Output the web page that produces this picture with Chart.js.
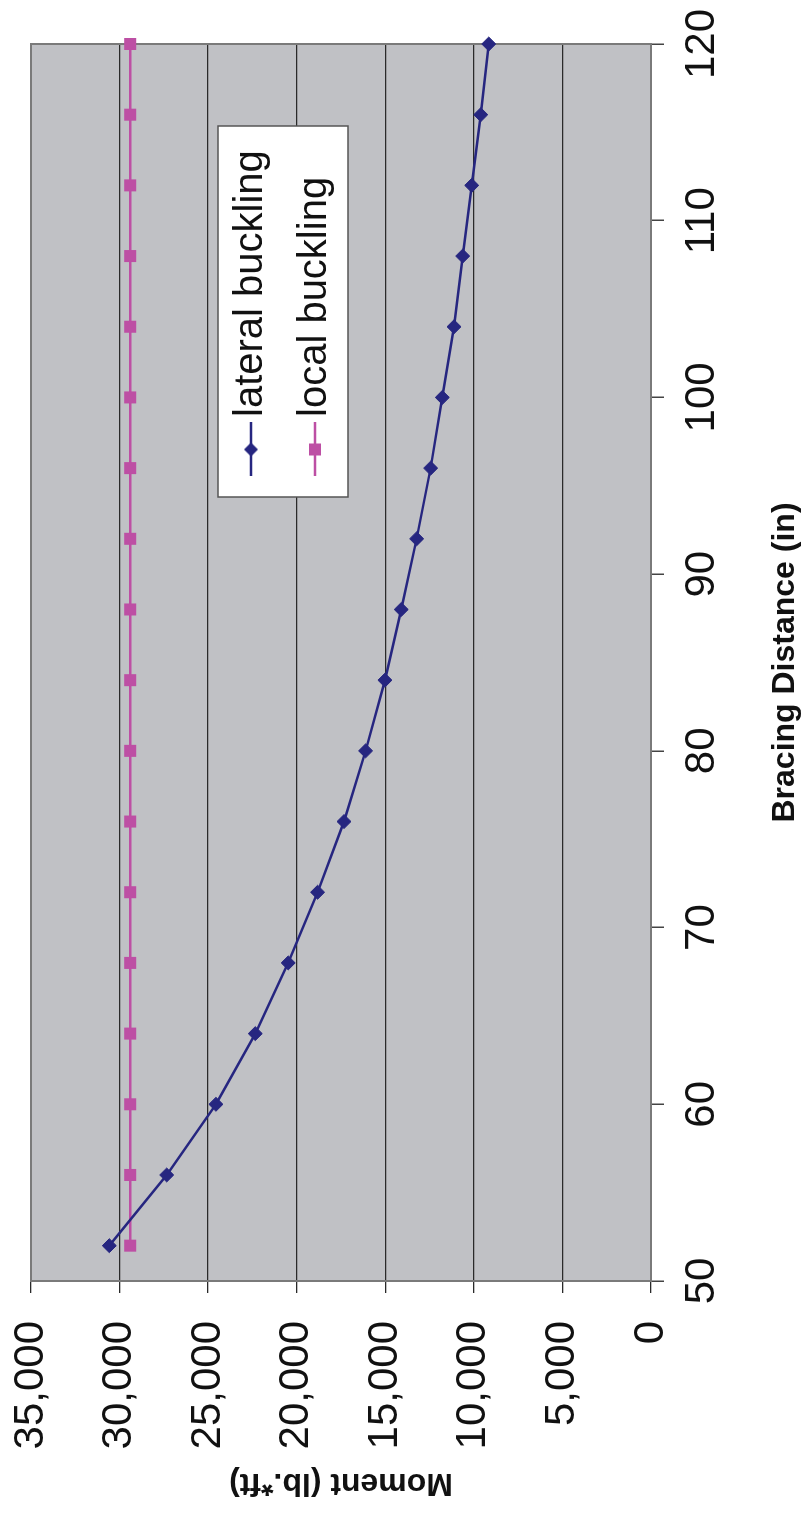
<!DOCTYPE html>
<html>
<head>
<meta charset="utf-8">
<script src="https://cdn.jsdelivr.net/npm/chart.js@4.4.1/dist/chart.umd.min.js"></script>
<style>
    html, body { margin: 0; padding: 0; background: #fff; overflow: hidden; }
    /* il grafico originale e' orizzontale: lo ruotiamo di 90 gradi in senso antiorario */
    #wrap {
        position: absolute; left: 0; top: 1514px;
        width: 1514px; height: 801px;
        transform-origin: 0 0; transform: rotate(-90deg);
    }
</style>
</head>
<body>
<div id="wrap"><canvas id="chart" width="1514" height="801"></canvas></div>
<script>
// dati
const bracingDistance = [52, 56, 60, 64, 68, 72, 76, 80, 84, 88, 92, 96, 100, 104, 108, 112, 116, 120];
const lateralBuckling = [30580, 27340, 24560, 22340, 20480, 18820, 17330, 16110, 15020,
                         14100, 13230, 12440, 11780, 11120, 10630, 10120, 9610, 9160];
const localBuckling = [29400, 29400, 29400, 29400, 29400, 29400, 29400, 29400, 29400,
                       29400, 29400, 29400, 29400, 29400, 29400, 29400, 29400, 29400];
const distanceTicks = [50, 60, 70, 80, 90, 100, 110, 120];
const momentTicks = [0, 5000, 10000, 15000, 20000, 25000, 30000, 35000];

const NAVY = '#262680';
const MAGENTA = '#bd4fa4';
const FONT = "'Liberation Sans', Arial, sans-serif";

// icona legenda: linea con marker al centro
function legendIcon(color, style) {
    const c = document.createElement('canvas');
    c.width = 54;
    c.height = 18;
    const g = c.getContext('2d');
    g.strokeStyle = color;
    g.fillStyle = color;
    g.lineWidth = 2.5;
    g.beginPath();
    g.moveTo(0, 9);
    g.lineTo(54, 9);
    g.stroke();
    g.beginPath();
    if (style === 'diamond') {
        g.moveTo(27, 2); g.lineTo(34, 9); g.lineTo(27, 16); g.lineTo(20, 9);
    } else {
        g.rect(21, 3, 12, 12);
    }
    g.closePath();
    g.fill();
    return c;
}
const legendIcons = [legendIcon(NAVY, 'diamond'), legendIcon(MAGENTA, 'square')];

const toPoints = arr => arr.map((v, i) => ({ x: bracingDistance[i], y: v }));

// sfondo grigio, cornice e riquadro legenda
const plotFrame = {
    id: 'plotFrame',
    beforeDraw(chart) {
        const { ctx, chartArea: a } = chart;
        ctx.save();
        ctx.fillStyle = '#c0c1c5';
        ctx.fillRect(a.left, a.top, a.right - a.left, a.bottom - a.top);
        ctx.restore();
    },
    afterLayout(chart) {
        const lg = chart.legend;
        lg.left = 1028;
        lg.top = 207;
        lg.right = 1400;
        lg.bottom = 360;
        lg.width = lg.right - lg.left;
        lg.height = lg.bottom - lg.top;
    },
    beforeDatasetsDraw(chart) {
        const { ctx, chartArea: a } = chart;
        ctx.save();
        ctx.strokeStyle = '#7a7a7a';
        ctx.lineWidth = 2;
        ctx.strokeRect(a.left, a.top, a.right - a.left, a.bottom - a.top);
        ctx.fillStyle = '#ffffff';
        ctx.fillRect(1017, 218, 371, 130);
        ctx.strokeStyle = '#555';
        ctx.lineWidth = 1.5;
        ctx.strokeRect(1017, 218, 371, 130);
        ctx.restore();
        chart.legend.draw();
    }
};

new Chart(document.getElementById('chart'), {
    type: 'line',
    data: {
        datasets: [
            {
                label: 'lateral buckling',
                data: toPoints(lateralBuckling),
                borderColor: NAVY,
                backgroundColor: NAVY,
                borderWidth: 2.5,
                pointStyle: 'rectRot',
                pointRadius: 7,
                pointBorderWidth: 1,
                tension: 0,
                clip: false
            },
            {
                label: 'local buckling',
                data: toPoints(localBuckling),
                borderColor: MAGENTA,
                backgroundColor: MAGENTA,
                borderWidth: 2.5,
                pointStyle: 'rect',
                pointRadius: 8.5,
                pointBorderWidth: 0,
                tension: 0,
                clip: false
            }
        ]
    },
    options: {
        responsive: false,
        animation: false,
        devicePixelRatio: 1,
        layout: { autoPadding: false, padding: { top: 31, right: 44, bottom: 0, left: 0 } },
        plugins: {
            tooltip: { enabled: false },
            legend: {
                position: 'chartArea',
                align: 'start',
                labels: {
                    usePointStyle: true,
                    pointStyleWidth: 25,
                    padding: 24,
                    color: '#111',
                    font: { family: FONT, size: 40 },
                    generateLabels(chart) {
                        const items = Chart.defaults.plugins.legend.labels.generateLabels(chart);
                        return items.map((it, i) => Object.assign(it, { pointStyle: legendIcons[i] }));
                    }
                }
            }
        },
        scales: {
            x: {
                type: 'linear',
                min: 50,
                max: 120,
                afterBuildTicks: s => { s.ticks = distanceTicks.map(v => ({ value: v })); },
                afterFit: s => {
                    s.height = 150;
                    s.paddingLeft = 0;
                    s.paddingRight = 0;
                },
                ticks: {
                    padding: 13,
                    color: '#111',
                    font: { family: FONT, size: 42 },
                    maxRotation: 0
                },
                grid: {
                    drawOnChartArea: false,
                    drawTicks: true,
                    tickLength: 13,
                    color: '#444',
                    lineWidth: 1.5
                },
                border: { display: true, color: '#555', width: 2 },
                title: {
                    display: true,
                    text: 'Bracing Distance (in)',
                    color: '#111',
                    padding: { top: 0, bottom: 0 },
                    font: { family: FONT, size: 32, weight: 'bold', lineHeight: 1 }
                }
            },
            y: {
                type: 'linear',
                min: 0,
                max: 35000,
                afterBuildTicks: s => { s.ticks = momentTicks.map(v => ({ value: v })); },
                afterFit: s => {
                    s.width = 233;
                    s.paddingTop = 0;
                    s.paddingBottom = 0;
                },
                ticks: {
                    padding: 28,
                    color: '#111',
                    font: { family: FONT, size: 42 },
                    callback: v => v.toLocaleString('en-US')
                },
                grid: {
                    drawTicks: true,
                    tickLength: 12,
                    color: '#2a2a2a',
                    lineWidth: 1.3
                },
                border: { display: true, color: '#555', width: 2 },
                title: {
                    display: true,
                    text: 'Moment (lb.*ft)',
                    color: '#111',
                    padding: { top: 15, bottom: 0 },
                    font: { family: FONT, size: 32, weight: 'bold', lineHeight: 1 }
                }
            }
        }
    },
    plugins: [plotFrame]
});
</script>
</body>
</html>
